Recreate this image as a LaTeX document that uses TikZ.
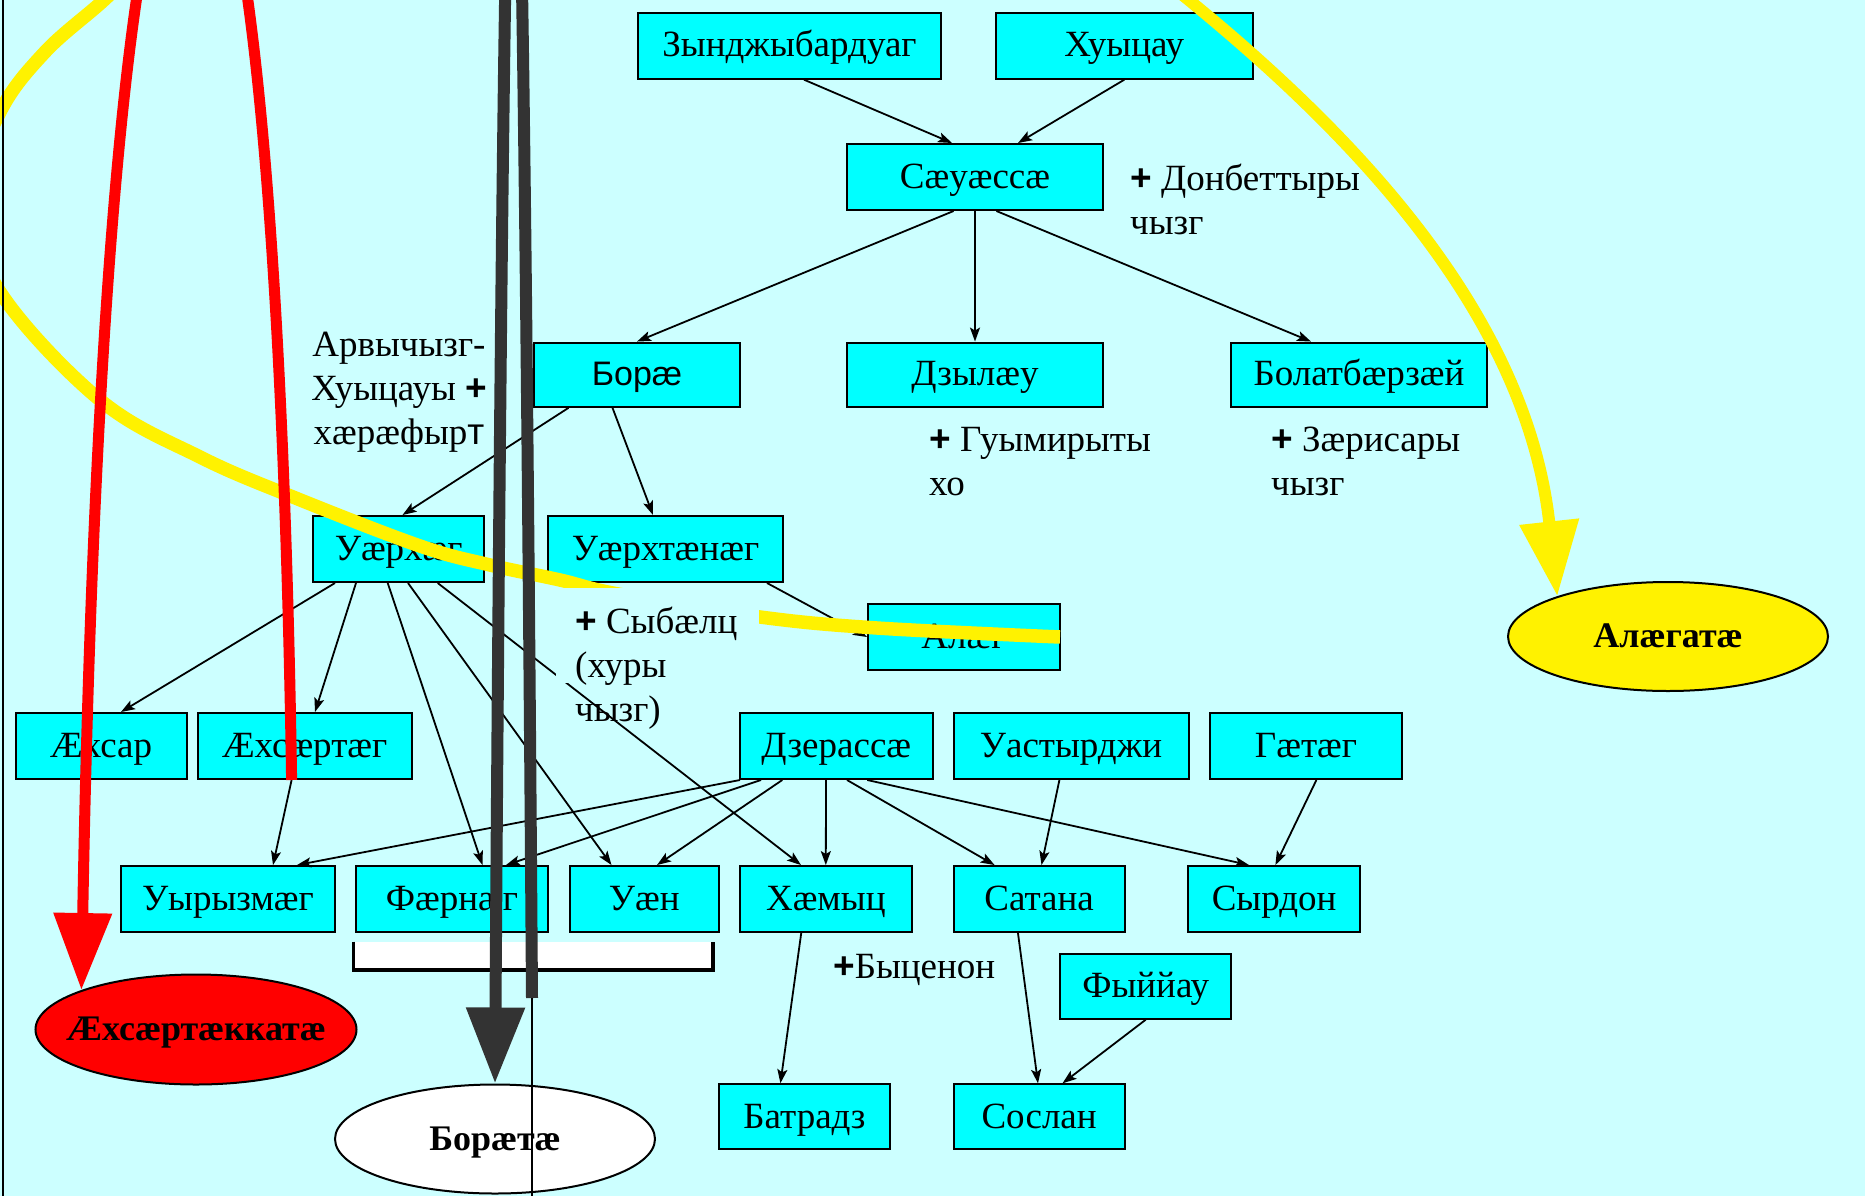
\documentclass[tikz,border=0pt]{standalone}
\usepackage{fontspec}
\setmainfont{Liberation Serif}
\newfontfamily\sanf{Liberation Sans}
\usetikzlibrary{arrows.meta,shapes.geometric}
\definecolor{bgc}{HTML}{CCFFFF}
\definecolor{boxc}{HTML}{00FFFF}
\definecolor{darkc}{HTML}{333333}
\newcommand\plsign{{\sanf\bfseries +}}
\begin{document}
\begin{tikzpicture}[x=1pt,y=-1pt,
  bx/.style={draw=black, line width=2pt, fill=boxc, rectangle, inner sep=0pt,
    font=\fontsize{37}{44}\selectfont, text height=28pt, text depth=5.5pt},
  el/.style={draw=black, line width=2pt, ellipse, inner sep=0pt,
    font=\fontsize{36}{44}\selectfont\bfseries, text height=28pt, text depth=5.5pt,
    minimum width=320pt, minimum height=109pt},
  conn/.style={-{Stealth[length=14pt,width=10pt,inset=3pt]}, line width=1.8pt, black},
  lbl/.style={inner sep=0pt, font=\fontsize{37}{44}\selectfont, align=left, anchor=north west},
]
\useasboundingbox (0,0) rectangle (1865,1196);
\fill[bgc] (0,0) rectangle (1865,1196);
\clip (0,0) rectangle (1865,1196);

% boxes
\node[bx,minimum width=303pt,minimum height=66pt] (zyn) at (789.5,45.7) {Зынджыбардуаг};
\node[bx,minimum width=256.5pt,minimum height=66pt] (hui) at (1124.3,45.7) {Хуыцау};
\node[bx,minimum width=256pt,minimum height=66pt] (saua) at (975,177) {Сæуæссæ};
\node[bx,minimum width=206pt,minimum height=64.3pt,font=\fontsize{34}{40}\selectfont\sanf] (bora) at (637,374.7) {Борæ};
\node[bx,minimum width=256pt,minimum height=64.3pt] (dzyl) at (975,374.7) {Дзылæу};
\node[bx,minimum width=256pt,minimum height=64.3pt] (bolat) at (1359,374.7) {Болатбæрзæй};
\node[bx,minimum width=171.5pt,minimum height=66pt] (uarhag) at (398.7,549) {Уæрхæг};
\node[bx,minimum width=235pt,minimum height=66pt] (uarhtanag) at (665.5,549) {Уæрхтæнæг};
\node[bx,minimum width=192pt,minimum height=66pt] (alag) at (964,637) {Алæг};
\node[bx,minimum width=171pt,minimum height=66pt] (ahsar) at (101,746) {Æхсар};
\node[bx,minimum width=214pt,minimum height=66pt] (ahsartag) at (304.5,746) {Æхсæртæг};
\node[bx,minimum width=192.6pt,minimum height=66pt] (dzerassa) at (836.3,746) {Дзерассæ};
\node[bx,minimum width=235pt,minimum height=66pt] (uastyrdzhi) at (1071,746) {Уастырджи};
\node[bx,minimum width=192.5pt,minimum height=66pt] (gatag) at (1306,746) {Гæтæг};
\node[bx,minimum width=213.3pt,minimum height=65.5pt] (uyryzmag) at (227.9,898.8) {Уырызмæг};
\node[bx,minimum width=192pt,minimum height=65.5pt] (farnag) at (452,898.8) {Фæрнæг};
\node[bx,minimum width=149.5pt,minimum height=65.5pt] (uan) at (644.3,898.8) {Уæн};
\node[bx,minimum width=171.5pt,minimum height=65.5pt] (hamyts) at (825.8,898.8) {Хæмыц};
\node[bx,minimum width=171pt,minimum height=65.5pt] (satana) at (1039.1,898.8) {Сатана};
\node[bx,minimum width=171.4pt,minimum height=65.5pt] (syrdon) at (1274.1,898.8) {Сырдон};
\node[bx,minimum width=171.3pt,minimum height=65.2pt] (fyyyau) at (1145.7,986.1) {Фыййау};
\node[bx,minimum width=171.5pt,minimum height=65pt] (batradz) at (804.5,1116.8) {Батрадз};
\node[bx,minimum width=171pt,minimum height=65pt] (soslan) at (1039.1,1116.8) {Сослан};

% ellipses
\node[el,fill=red,minimum width=321pt,minimum height=110pt] (ahsk) at (196,1029.5) {\makebox[0pt]{Æхсæртæккатæ}};
\node[el,fill=white] (borata) at (495,1139) {\makebox[0pt]{Борæтæ}};
\node[el,fill=yellow] (alagata) at (1668,636.5) {\makebox[0pt]{Алæгатæ}};

% labels
\node[lbl,align=center,anchor=north] (arv) at (399,328.7) {\rule{0pt}{28pt}Арвычызг-\\Хуыцауы \plsign\\хæрæфыр{\sanf т}};
\node[lbl] (don) at (1130,162.7) {\rule{0pt}{28pt}\plsign{} Донбеттыры\\чызг};
\node[lbl] (guy) at (929,423.7) {\rule{0pt}{28pt}\plsign{} Гуымирыты\\хо};
\node[lbl] (zar) at (1271,423.7) {\rule{0pt}{28pt}\plsign{} Зæрисары\\чызг};
\node[lbl,anchor=base west] (byts) at (833,978) {\plsign Быценон};

% white bracket
\fill[white] (353.6,941.7) rectangle (712.8,970);
\draw[black, line width=3.5pt] (353.6,941.7) |- (712.8,970) -- (712.8,941.7);

% connectors
\draw[conn] ([xshift=14.5pt]zyn.south) -- ([xshift=-23pt]saua.north);
\draw[conn] (hui.south) -- ([xshift=43pt]saua.north);
\draw[conn] ([xshift=-21.4pt]saua.south) -- (bora.north);
\draw[conn] (saua.south) -- (dzyl.north);
\draw[conn] ([xshift=21.4pt]saua.south) -- ([xshift=-48pt]bolat.north);
\draw[conn] ([xshift=-68.5pt]bora.south) -- ([xshift=3.8pt]uarhag.north);
\draw[conn] ([xshift=-24.5pt]bora.south) -- ([xshift=-12.5pt]uarhtanag.north);
\draw[conn] ([xshift=101.5pt]uarhtanag.south) -- (alag.west);
\draw[conn] ([xshift=-63.7pt]uarhag.south) -- ([xshift=20pt]ahsar.north);
\draw[conn] ([xshift=-42.7pt]uarhag.south) -- ([xshift=10.5pt]ahsartag.north);
\draw[conn] ([xshift=-11pt]uarhag.south) -- ([xshift=30.5pt]farnag.north);
\draw[conn] ([xshift=9.3pt]uarhag.south) -- ([xshift=-32.8pt]uan.north);
\draw[conn] ([xshift=39pt]uarhag.south) -- ([xshift=-24.8pt]hamyts.north);
\draw[conn] ([xshift=-12.9pt]ahsartag.south) -- ([xshift=45.1pt]uyryzmag.north);
\draw[conn] ([xshift=-96.3pt]dzerassa.south) -- ([xshift=69.1pt]uyryzmag.north);
\draw[conn] ([xshift=-75.3pt]dzerassa.south) -- ([xshift=54pt]farnag.north);
\draw[conn] ([xshift=-54pt]dzerassa.south) -- ([xshift=12.7pt]uan.north);
\draw[conn] ([xshift=-10.3pt]dzerassa.south) -- (hamyts.north);
\draw[conn] ([xshift=10.7pt]dzerassa.south) -- ([xshift=-44.5pt]satana.north);
\draw[conn] ([xshift=30.9pt]dzerassa.south) -- ([xshift=-25.1pt]syrdon.north);
\draw[conn] ([xshift=-11.6pt]uastyrdzhi.south) -- ([xshift=2.4pt]satana.north);
\draw[conn] ([xshift=10.4pt]gatag.south) -- ([xshift=1.3pt]syrdon.north);
\draw[conn] ([xshift=-24.5pt]hamyts.south) -- ([xshift=-24.1pt]batradz.north);
\draw[conn] ([xshift=-21.2pt]satana.south) -- ([xshift=-1.1pt]soslan.north);
\draw[conn] (fyyyau.south) -- ([xshift=23.4pt]soslan.north);

% yellow left loop
\draw[yellow, line width=13.5pt] plot[smooth, tension=0.6] coordinates {(150,-45) (104,0) (45,52) (0,112) (-30,200) (0,292) (100,400) (200,457) (293,497) (420,546) (490,565) (560,580) (618,594) (760,617) (877,628) (1060,637)};

% label with opaque background
\fill[bgc] (556,588) rectangle (759,683);
\node[lbl] (syb) at (575,605) {\rule{0pt}{28pt}\plsign{} Сыбæлц\\(хуры\\чызг)};

% yellow arrow
\coordinate (ystart) at (1150,-31);
\draw[yellow, line width=12pt, -{Triangle[length=75pt,width=57pt]}] (ystart) .. controls (1330,110) and (1525,300) .. (alagata.160);

% red arrow
\draw[red, line width=11pt, -{Triangle[length=77pt,width=56pt]}] ([xshift=-12.9pt]ahsartag.south) .. controls (272,-520) and (108,-520) .. (ahsk.161);

% dark arrow
\coordinate (dk) at (532,998);
\coordinate (dkb) at (532,1200);
\draw[darkc, line width=12pt, -{Triangle[length=76pt,width=56pt]}] (dk) .. controls (520,-700) and (507,-700) .. (borata.north);
\draw[black, line width=2pt] (dk) -- (dkb);

% left frame
\draw[black, line width=2pt] (2.5,0) -- (2.5,1196);
\end{tikzpicture}
\end{document}
